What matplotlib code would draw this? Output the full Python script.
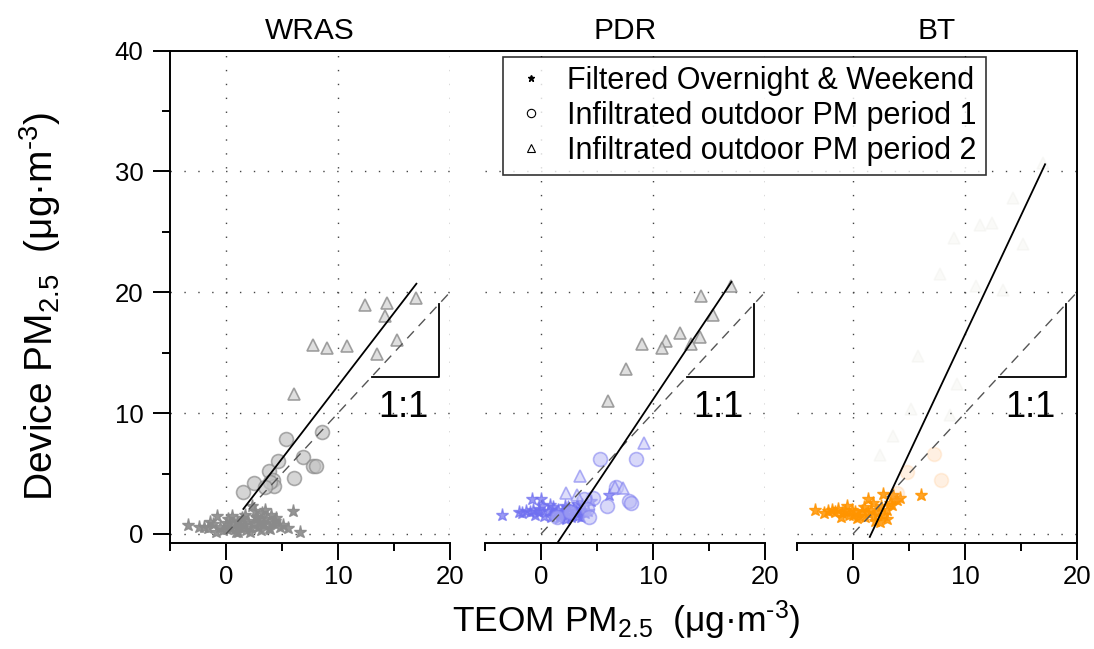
import matplotlib
matplotlib.use("Agg")
import matplotlib.pyplot as plt
from matplotlib.lines import Line2D
import numpy as np

plt.rcParams['font.family'] = ['Liberation Sans', 'DejaVu Sans']
plt.rcParams['mathtext.default'] = 'regular'

# ---------------- data ----------------
panel_titles = ["WRAS", "PDR", "BT"]
x_ticks = [0, 10, 20]
y_ticks = [0, 10, 20, 30, 40]

# WRAS
wras_star_x = [-3.4, -2.0, -1.6, -1.2, -0.8, -0.5, -0.3, 0.0, 0.2, 0.4, 0.6, 0.8, 1.0, 1.2, 1.4, 1.6, 1.8, 2.0,
               2.2, 2.3, 2.5, 2.7, 2.9, 3.0, 3.2, 3.4, 3.6, 3.8, 4.0, 4.2, 4.5, 4.8, 5.1, 5.5, 6.0, 6.6, -1.4,
               -0.9, 0.1, 0.5, 0.9, 1.3, 1.7, 2.1, 2.6, 3.1, 3.5, 3.9, 4.4, -2.4, 1.1, 2.8, 3.3]
wras_star_y = [0.7, 0.6, 0.5, 0.8, 1.45, 0.6, 0.3, 0.9, 1.2, 0.5, 0.8, 0.4, 1.0, 0.6, 1.3, 0.7, 0.3, 1.1,
               0.5, 2.3, 0.9, 1.4, 0.6, 1.0, 1.75, 0.8, 1.2, 0.5, 1.6, 0.9, 1.3, 0.6, 0.77, 0.5, 1.9, 0.2, 1.0,
               0.2, 0.4, 1.5, 0.2, 0.9, 1.6, 0.2, 1.9, 0.3, 2.0, 0.4, 1.1, 0.6, 0.2, 1.3, 0.9]
wras_p1_x = [1.55, 2.5, 3.8, 4.6, 5.4, 4.2, 4.3, 3.9, 6.1, 6.85, 7.8, 8.0, 8.6, 3.5]
wras_p1_y = [3.47, 4.2, 5.2, 6.0, 7.85, 4.5, 4.0, 4.3, 4.6, 6.4, 5.65, 5.6, 8.4, 3.9]
wras_p2_x = [6.07, 7.8, 9.05, 10.8, 12.4, 14.35, 14.2, 13.45, 15.3, 17.0]
wras_p2_y = [11.6, 15.65, 15.4, 15.55, 18.95, 19.1, 18.0, 14.9, 16.05, 19.55]

# PDR
pdr_star_x = [-3.5, -2.0, -1.7, -1.3, -1.0, -0.8, -0.5, -0.2, 0.0, 0.3, 0.6, 0.9, 1.1, 1.3, 1.5, 1.7, 1.9,
              2.1, 2.3, 2.5, 2.7, 2.9, 3.1, 3.3, 3.5, 3.7, 3.9, 4.2, -0.7, -0.2, 0.8, 1.2, 1.6, 2.0, 2.4, 2.8,
              3.2, 3.6, 6.1, 0.1, 4.5, 2.2]
pdr_star_y = [1.6, 1.8, 1.7, 1.9, 1.8, 2.9, 1.6, 2.1, 2.9, 1.5, 1.9, 1.4, 2.2, 1.7, 2.0, 1.5, 1.8,
              2.3, 1.6, 1.9, 1.4, 2.1, 1.8, 1.5, 2.0, 2.4, 1.7, 1.9, 2.0, 1.8, 2.4, 1.6, 1.3, 1.7, 2.2, 1.6,
              2.5, 1.4, 3.2, 2.3, 2.7, 1.2]
pdr_p1_x = [5.3, 8.5, 6.7, 7.9, 8.0, 5.9, 4.6, 3.8, 4.1, 4.3, 1.4, 2.6]
pdr_p1_y = [6.2, 6.2, 3.9, 2.7, 2.6, 2.3, 3.0, 2.9, 2.1, 1.4, 1.4, 1.8]
pdr_p2_low_x = [9.2, 3.5, 2.2, 6.6, 7.3, 3.2]
pdr_p2_low_y = [7.5, 4.8, 3.4, 3.85, 3.8, 3.2]
pdr_p2_high_x = [17.0, 14.3, 15.4, 12.45, 14.2, 13.4, 11.2, 10.8, 9.0, 7.6, 6.0]
pdr_p2_high_y = [20.55, 19.65, 18.1, 16.6, 16.3, 15.7, 16.0, 15.4, 15.7, 13.65, 11.0]

# BT
bt_star_x = [-3.4, -2.2, -1.9, -1.6, -1.3, -1.0, -0.7, -0.4, -0.1, 0.2, 0.5, 0.8, 1.0, 1.3, 1.6, 1.9, 2.2,
             2.5, 2.8, 3.0, 3.3, 3.6, 3.9, 1.35, 6.1, -1.1, -0.5, 0.4, 1.1, 1.8, 2.4, 3.0, 3.5, 4.2, 0.0,
             2.0, 2.7, -2.6]
bt_star_y = [2.0, 1.9, 2.0, 1.8, 2.1, 1.7, 1.9, 1.6, 2.0, 1.8, 1.5, 1.9, 2.2, 1.7, 2.0, 1.5, 1.8,
             2.3, 1.6, 1.2, 2.6, 3.2, 2.8, 2.9, 3.2, 1.4, 2.3, 1.3, 1.4, 2.6, 1.0, 2.0, 2.4, 3.0, 1.6,
             1.1, 3.3, 1.7]
bt_p1_x = [7.9, 7.2, 4.8, 3.9]
bt_p1_y = [4.5, 6.6, 5.1, 3.4]
bt_p2_x = [5.8, 2.4, 5.2, 9.3, 8.7, 7.8, 11.0, 13.4, 9.0, 11.3, 12.4, 15.2, 14.3, 17.0, 3.6]
bt_p2_y = [14.7, 6.5, 10.3, 12.4, 9.8, 21.5, 20.5, 20.2, 24.5, 25.6, 25.7, 24.0, 27.8, 30.7, 8.1]

# regression lines (slope, intercept, x-range)
fit_slope = [1.206, 1.39, 1.97]
fit_intercept = [0.20, -2.78, -3.2]
fit_x0 = [1.55, 1.5, 1.5]
fit_x1 = [17.0, 17.0, 17.15]

legend_labels = ["Filtered Overnight & Weekend",
                 "Infiltrated outdoor PM period 1",
                 "Infiltrated outdoor PM period 2"]

# ---------------- figure ----------------
W, H = 1094, 649
fig = plt.figure(figsize=(W / 100, H / 100), dpi=100)

lefts = [170, 485, 797]
pw = 280
top_px, bot_px = 50.5, 543
axes = []
for L in lefts:
    ax = fig.add_axes([L / W, (H - bot_px) / H, pw / W, (bot_px - top_px) / H])
    axes.append(ax)

GRID = dict(color='#444444', lw=1.0, ls=(0, (1, 9)), zorder=0)
TICK_FS = 18.5

for i, ax in enumerate(axes):
    ax.set_xlim(-5, 20)
    ax.set_ylim(-0.75, 40)
    for g in [0, 10, 20]:
        ax.axvline(g, **GRID)
    for g in [0, 10, 20, 30]:
        ax.axhline(g, **GRID)
    ax.set_xticks(x_ticks)
    ax.set_xticks([-5, 5, 15], minor=True)
    ax.set_yticks(y_ticks)
    ax.set_yticks([5, 15, 25, 35], minor=True)
    ax.tick_params(axis='both', which='major', length=12, width=1.4, labelsize=TICK_FS, direction='out')
    ax.tick_params(axis='both', which='minor', length=6, width=1.4, direction='out')
    ax.tick_params(axis='x', pad=4)
    ax.tick_params(axis='y', pad=7)
    ax.spines['top'].set_visible(False)
    ax.spines['right'].set_visible(False)
    ax.spines['bottom'].set_linewidth(1.4)
    ax.spines['left'].set_linewidth(1.4)
    if i > 0:
        ax.spines['left'].set_visible(False)
        ax.tick_params(axis='y', which='both', left=False, labelleft=False)
    if i == 2:
        ax.spines['right'].set_visible(True)
        ax.spines['right'].set_linewidth(1.4)
    ax.set_title(panel_titles[i], fontsize=21.5, pad=8)

    # 1:1 dashed line and triangle
    ax.plot([0, 20], [0, 20], color='#555555', lw=1.0, ls=(0, (7, 5)), zorder=3)
    ax.plot([13, 19, 19], [13, 13, 19], color='black', lw=1.3, zorder=3)
    ax.text(15.8, 10.5, "1:1", fontsize=26, ha='center', va='center')
    # regression line
    xs = np.array([fit_x0[i], fit_x1[i]])
    ax.plot(xs, fit_slope[i] * xs + fit_intercept[i], color='black', lw=1.3, zorder=4)

STAR = dict(marker='*', linestyle='none', ms=9.5)
CIRC = dict(marker='o', linestyle='none', ms=10, mew=1.2)
TRI = dict(marker='^', linestyle='none', ms=9, mew=1.2)

# WRAS (gray)
ax = axes[0]
ax.plot(wras_star_x, wras_star_y, color='#8a8a8a', mec='#8a8a8a', alpha=0.9, zorder=2, **STAR)
ax.plot(wras_p1_x, wras_p1_y, mfc='#c4c4c4', mec='#8a8a8a', alpha=0.7, zorder=2, **CIRC)
ax.plot(wras_p2_x, wras_p2_y, mfc='#d8d8d8', mec='#8a8a8a', alpha=0.8, zorder=2, **TRI)

# PDR (blue)
ax = axes[1]
blue = '#6f6ff0'
ax.plot(pdr_star_x, pdr_star_y, color=blue, mec=blue, alpha=0.7, zorder=2, **STAR)
ax.plot(pdr_p1_x, pdr_p1_y, mfc='#b8b8f5', mec='#7d7df0', alpha=0.55, zorder=2, **CIRC)
ax.plot(pdr_p2_low_x, pdr_p2_low_y, mfc='#c8c8f8', mec='#7d7df0', alpha=0.6, zorder=2, **TRI)
ax.plot(pdr_p2_high_x, pdr_p2_high_y, mfc='#d8d8d8', mec='#8a8a8a', alpha=0.8, zorder=2, **TRI)

# BT (orange)
ax = axes[2]
orange = '#ff9400'
ax.plot(bt_star_x, bt_star_y, color=orange, mec=orange, alpha=0.85, zorder=2, **STAR)
ax.plot(bt_p1_x, bt_p1_y, mfc='#ffb060', mec='#ffb060', alpha=0.18, zorder=2, **CIRC)
ax.plot(bt_p2_x, bt_p2_y, mfc='#c0c0b0', mec='#c0c0b0', alpha=0.08, zorder=2, **TRI)

# top frame line spanning all panels
ytop = (H - top_px) / H
fig.add_artist(Line2D([lefts[0] / W, (lefts[2] + pw) / W], [ytop, ytop],
                      transform=fig.transFigure, color='black', lw=1.4))

# legend
handles = [
    Line2D([], [], marker='*', ls='none', color='black', ms=5),
    Line2D([], [], marker='o', ls='none', mfc='white', mec='black', ms=6, mew=0.8),
    Line2D([], [], marker='^', ls='none', mfc='white', mec='black', ms=5.5, mew=0.8),
]
leg = fig.legend(handles, legend_labels, loc='upper left', bbox_to_anchor=(503 / W, (H - 57) / H),
                 bbox_transform=fig.transFigure, fontsize=22, frameon=True, fancybox=False,
                 edgecolor='black', borderaxespad=0, handlelength=1.2, handletextpad=0.6,
                 labelspacing=0.16, borderpad=0.3)
leg.get_frame().set_linewidth(1.2)

# axis labels
fig.text(626 / W, (H - 632) / H, "TEOM PM$_{2.5}$  (μg·m$^{\u2010 3}$)".replace("\u2010 ", "\u2010"),
         fontsize=25.5, ha='center', va='baseline')
fig.text(40 / W, (H - 306) / H, "Device PM$_{2.5}$  (μg·m$^{\u2010 3}$)".replace("\u2010 ", "\u2010"),
         fontsize=28, ha='center', va='center', rotation=90)

fig.savefig("out.png", dpi=100)
